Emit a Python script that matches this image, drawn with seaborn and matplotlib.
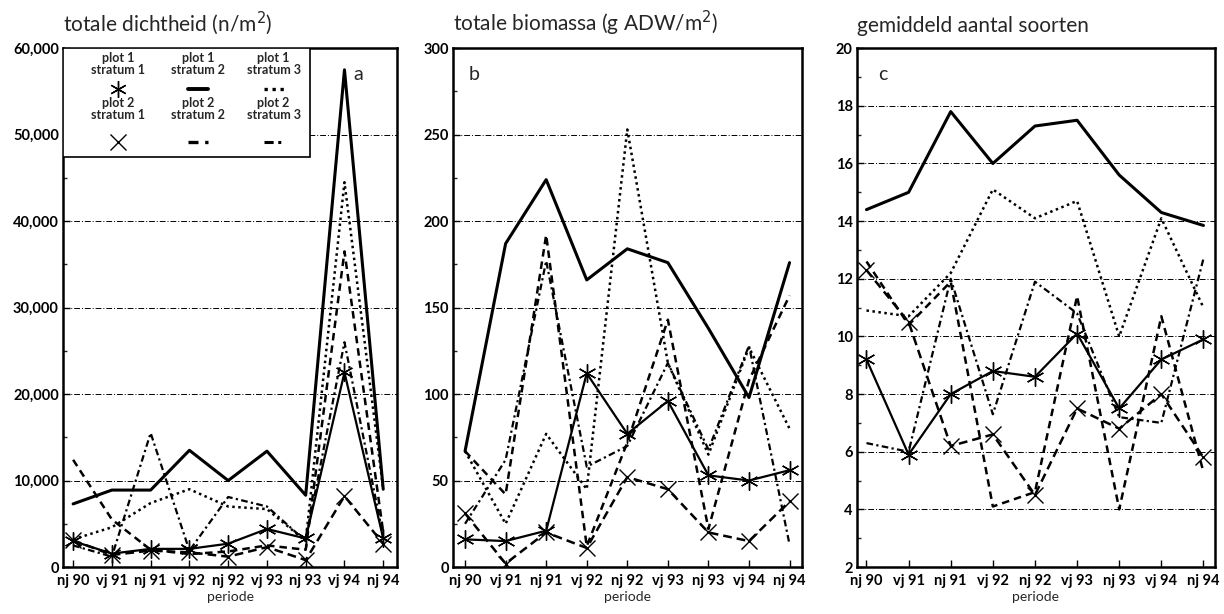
import matplotlib
matplotlib.use("Agg")
import matplotlib.pyplot as plt
import seaborn as sns
import pandas as pd
from matplotlib.lines import Line2D
from matplotlib.patches import Rectangle
from matplotlib.ticker import FuncFormatter, MultipleLocator

sns.set_theme(style="white")
plt.rcParams['font.family'] = ['Lato', 'DejaVu Sans']

# periods on the x axis
periods = ["nj 90", "vj 91", "nj 91", "vj 92", "nj 92", "vj 93", "nj 93", "vj 94", "nj 94"]
series_names = ["p1s1", "p1s2", "p1s3", "p2s1", "p2s2", "p2s3"]
legend_labels = ["plot 1\nstratum 1", "plot 1\nstratum 2", "plot 1\nstratum 3",
                 "plot 2\nstratum 1", "plot 2\nstratum 2", "plot 2\nstratum 3"]

# a: totale dichtheid (n/m2)
dens_p1s1 = [3000, 1550, 2100, 2100, 2700, 4400, 3300, 22500, 3300]
dens_p1s2 = [7300, 8900, 8900, 13500, 10000, 13400, 8300, 57500, 9000]
dens_p1s3 = [3200, 4600, 7400, 9000, 7000, 6700, 3000, 44500, 9000]
dens_p2s1 = [3100, 1400, 1900, 1700, 1200, 2300, 800, 8200, 2700]
dens_p2s2 = [12400, 5500, 2000, 1500, 1800, 2500, 2000, 36500, 4000]
dens_p2s3 = [2500, 1200, 15500, 1900, 8100, 7000, 3000, 26000, 3500]

# b: totale biomassa (g ADW/m2)
bio_p1s1 = [16, 15, 21, 112, 77, 96, 53, 50, 56]
bio_p1s2 = [67, 187, 224, 166, 184, 176, 138, 98, 176]
bio_p1s3 = [67, 25, 77, 45, 253, 118, 65, 127, 80]
bio_p2s1 = [31, 2, 20, 11, 52, 45, 20, 15, 38]
bio_p2s2 = [67, 42, 192, 12, 72, 143, 22, 108, 157]
bio_p2s3 = [25, 62, 177, 58, 70, 118, 68, 128, 13]

# c: gemiddeld aantal soorten
sp_p1s1 = [9.2, 5.9, 8.0, 8.8, 8.6, 10.1, 7.5, 9.2, 9.9]
sp_p1s2 = [14.4, 15.0, 17.8, 16.0, 17.3, 17.5, 15.6, 14.3, 13.85]
sp_p1s3 = [10.9, 10.7, 12.2, 15.1, 14.1, 14.7, 10.0, 14.1, 11.0]
sp_p2s1 = [12.3, 10.5, 6.2, 6.6, 4.5, 7.5, 6.8, 8.0, 5.8]
sp_p2s2 = [12.6, 10.4, 11.9, 4.1, 4.6, 11.4, 4.0, 10.7, 5.3]
sp_p2s3 = [6.3, 6.0, 12.0, 7.3, 11.9, 10.8, 7.2, 7.0, 12.7]

styles = {
    "p1s1": dict(lw=1.6, linestyle="-", marker=(6, 2, 0), markersize=13, mew=1.0),
    "p1s2": dict(lw=2.2, linestyle="-", marker=None),
    "p1s3": dict(lw=1.8, linestyle=(0, (1, 1.4)), marker=None),
    "p2s1": dict(lw=1.8, linestyle=(0, (3.5, 2)), marker="x", markersize=12, mew=1.0),
    "p2s2": dict(lw=1.8, linestyle=(0, (3, 2)), marker=None),
    "p2s3": dict(lw=1.6, linestyle=(0, (3, 1.5, 1, 1.5)), marker=None),
}


def make_df(values):
    rows = []
    for name, vals in zip(series_names, values):
        for i, v in enumerate(vals):
            rows.append({"series": name, "x": i, "y": v})
    return pd.DataFrame(rows)


panels = [
    dict(df=make_df([dens_p1s1, dens_p1s2, dens_p1s3, dens_p2s1, dens_p2s2, dens_p2s3]),
         title="totale dichtheid (n/m$^2$)", ylim=(0, 60000), step=10000,
         xlim=(-0.26, 8.36), rect=[0.0515, 0.0765, 0.273, 0.845],
         letter="a", lpos=(0.87, 0.965), fmt=lambda v, p: f"{int(v):,}"),
    dict(df=make_df([bio_p1s1, bio_p1s2, bio_p1s3, bio_p2s1, bio_p2s2, bio_p2s3]),
         title="totale biomassa (g ADW/m$^2$)", ylim=(0, 300), step=50,
         xlim=(-0.30, 8.30), rect=[0.370, 0.0765, 0.285, 0.845],
         letter="b", lpos=(0.045, 0.965), fmt=lambda v, p: f"{int(v)}"),
    dict(df=make_df([sp_p1s1, sp_p1s2, sp_p1s3, sp_p2s1, sp_p2s2, sp_p2s3]),
         title="gemiddeld aantal soorten", ylim=(2, 20), step=2,
         xlim=(-0.23, 8.27), rect=[0.700, 0.0765, 0.2925, 0.845],
         letter="c", lpos=(0.06, 0.965), fmt=lambda v, p: f"{int(v)}"),
]

fig = plt.figure(figsize=(12.24, 6.14), dpi=100)

for pan in panels:
    ax = fig.add_axes(pan["rect"])
    df = pan["df"]
    for name in series_names:
        sub = df[df["series"] == name]
        st = styles[name]
        kw = dict(color="black", lw=st["lw"], linestyle=st["linestyle"])
        if st["marker"] is not None:
            kw.update(marker=st["marker"], markersize=st["markersize"],
                      markeredgewidth=st["mew"], markeredgecolor="black")
        sns.lineplot(data=sub, x="x", y="y", ax=ax, legend=False, **kw)

    lo, hi = pan["ylim"]
    for g in range(lo + pan["step"], hi, pan["step"]):
        ax.axhline(g, color="black", lw=0.7, linestyle=(0, (6, 2, 1, 2)), zorder=0)

    ax.set_xlim(*pan["xlim"])
    ax.set_ylim(lo, hi)
    ax.set_xticks(range(len(periods)))
    ax.set_xticklabels(periods, fontsize=10.5, fontweight="bold")
    ax.yaxis.set_major_locator(MultipleLocator(pan["step"]))
    ax.yaxis.set_minor_locator(MultipleLocator(pan["step"] / 2))
    ax.yaxis.set_major_formatter(FuncFormatter(pan["fmt"]))
    for lab in ax.get_yticklabels():
        lab.set_fontweight("bold")
        lab.set_fontsize(10.5)
    ax.tick_params(axis="both", direction="in", length=5, width=1, colors="black", pad=3)
    ax.tick_params(axis="y", which="minor", direction="in", length=3, width=1, left=True)
    ax.tick_params(axis="x", bottom=True, pad=5)
    ax.tick_params(axis="y", left=True)
    ax.set_xlabel("periode", fontsize=10, labelpad=2)
    ax.set_ylabel("")
    ax.set_title(pan["title"], loc="left", fontsize=15, pad=12, x=0.0)
    for sp in ax.spines.values():
        sp.set_color("black")
        sp.set_linewidth(1.8)
    ax.text(pan["lpos"][0], pan["lpos"][1], pan["letter"], transform=ax.transAxes,
            fontsize=14, ha="left", va="top")

    if pan["letter"] == "a":
        # legend box: label text above a short symbol
        ax.add_patch(Rectangle((0, 0.79), 0.74, 0.21, transform=ax.transAxes,
                               facecolor="white", edgecolor="black", lw=1.2, zorder=5))
        cols = [0.165, 0.405, 0.63]
        rows = [(0.993, 0.922), (0.905, 0.82)]
        for k, (name, lab) in enumerate(zip(series_names, legend_labels)):
            cx = cols[k % 3]
            ty, sy = rows[k // 3]
            ax.text(cx, ty, lab, transform=ax.transAxes, ha="center", va="top",
                    fontsize=9, fontweight="bold", linespacing=1.0, zorder=6)
            st = styles[name]
            if st["marker"] is not None:
                h = Line2D([cx], [sy], transform=ax.transAxes, color="black",
                           marker=st["marker"], markersize=st["markersize"] - 1,
                           markeredgewidth=st["mew"], linestyle="none", zorder=6)
            else:
                h = Line2D([cx - 0.03, cx + 0.03], [sy, sy], transform=ax.transAxes,
                           color="black", lw=st["lw"] + 0.6, linestyle=st["linestyle"],
                           zorder=6)
            ax.add_line(h)

fig.savefig("out.png", dpi=100, facecolor="white")
